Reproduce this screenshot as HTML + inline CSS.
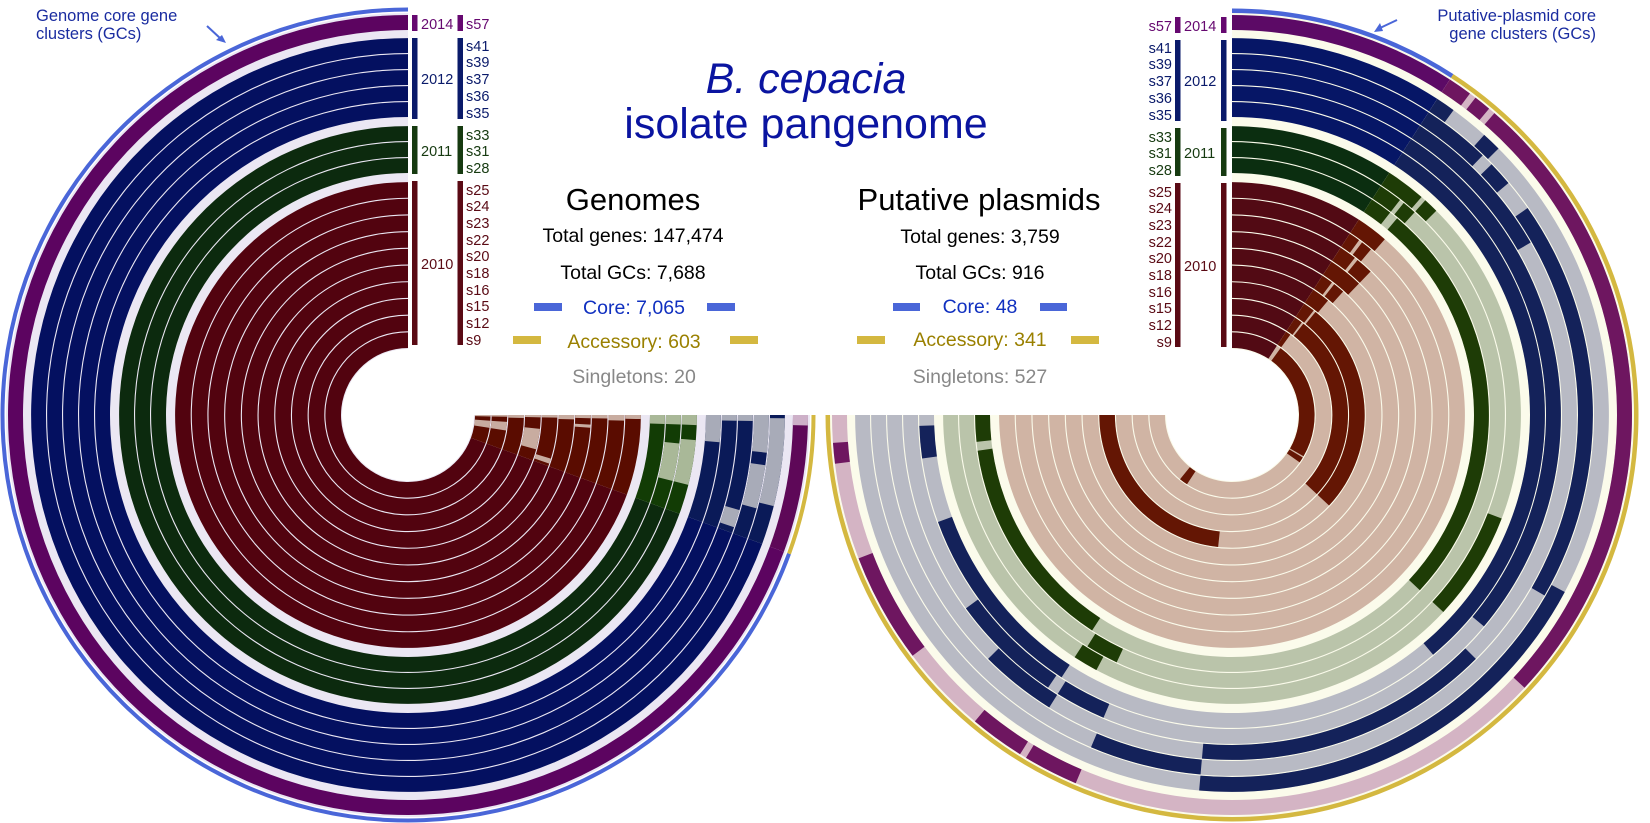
<!DOCTYPE html>
<html><head><meta charset="utf-8">
<style>
html,body{margin:0;padding:0;background:#fff;}
svg{display:block;font-family:"Liberation Sans",Arial,sans-serif;}
</style></head>
<body>
<svg id="s" width="1650" height="823" viewBox="0 0 1650 823" xmlns="http://www.w3.org/2000/svg">
<g id="rings"></g>
<!-- Title -->
<text x="806" y="93" font-size="43" fill="#0a14a0" text-anchor="middle" font-style="italic">B. cepacia</text>
<text x="806" y="138" font-size="43" fill="#0a14a0" text-anchor="middle">isolate pangenome</text>
<!-- Genomes block -->
<g text-anchor="middle">
<text x="633" y="210" font-size="31" fill="#000">Genomes</text>
<text x="633" y="242" font-size="19.5" fill="#000">Total genes: 147,474</text>
<text x="633" y="279" font-size="19.5" fill="#000">Total GCs: 7,688</text>
<text x="634" y="314" font-size="19.5" fill="#1030c0">Core: 7,065</text>
<text x="634" y="348" font-size="19.5" fill="#9a8000">Accessory: 603</text>
<text x="634" y="383" font-size="19.5" fill="#888">Singletons: 20</text>
<text x="979" y="210" font-size="31" fill="#000">Putative plasmids</text>
<text x="980" y="243" font-size="19.5" fill="#000">Total genes: 3,759</text>
<text x="980" y="279" font-size="19.5" fill="#000">Total GCs: 916</text>
<text x="980" y="313" font-size="19.5" fill="#1030c0">Core: 48</text>
<text x="980" y="346" font-size="19.5" fill="#9a8000">Accessory: 341</text>
<text x="980" y="383" font-size="19.5" fill="#888">Singletons: 527</text>
</g>
<rect x="534" y="303" width="28" height="8" fill="#4a66d8"/><rect x="707" y="303" width="28" height="8" fill="#4a66d8"/>
<rect x="513" y="336" width="28" height="8" fill="#d4b840"/><rect x="730" y="336" width="28" height="8" fill="#d4b840"/>
<rect x="893" y="303" width="27" height="8" fill="#4a66d8"/><rect x="1040" y="303" width="27" height="8" fill="#4a66d8"/>
<rect x="857" y="336" width="28" height="8" fill="#d4b840"/><rect x="1071" y="336" width="28" height="8" fill="#d4b840"/>
<!-- Annotations -->
<text x="36" y="21" font-size="16.5" fill="#1a2ca0">Genome core gene</text>
<text x="36" y="39" font-size="16.5" fill="#1a2ca0">clusters (GCs)</text>
<line x1="207" y1="26" x2="221" y2="39" stroke="#4a66d8" stroke-width="2"/>
<polygon points="226,43 216,40 222,35" fill="#4a66d8"/>
<text x="1596" y="21" font-size="16.5" fill="#1a2ca0" text-anchor="end">Putative-plasmid core</text>
<text x="1596" y="39" font-size="16.5" fill="#1a2ca0" text-anchor="end">gene clusters (GCs)</text>
<line x1="1397" y1="20" x2="1380" y2="28" stroke="#4a66d8" stroke-width="2"/>
<polygon points="1374,32 1380,23 1383,31" fill="#4a66d8"/>
<g id="labels" font-size="14.5"></g>
</svg>
<script>
(function(){
var NS="http://www.w3.org/2000/svg";
var G=document.getElementById("rings");
function sector(cx,cy,r1,r2,a1,a2,dir,fill){
  if(a2<=a1) return;
  function pt(r,a){var t=a*Math.PI/180;return [cx+dir*r*Math.sin(t),cy-r*Math.cos(t)];}
  var p1=pt(r2,a1),p2=pt(r2,a2),p3=pt(r1,a2),p4=pt(r1,a1);
  var lg=(a2-a1)>180?1:0; var sw1=dir>0?1:0, sw2=dir>0?0:1;
  var d="M"+p1[0].toFixed(2)+" "+p1[1].toFixed(2)+" A"+r2+" "+r2+" 0 "+lg+" "+sw1+" "+p2[0].toFixed(2)+" "+p2[1].toFixed(2)+
   " L"+p3[0].toFixed(2)+" "+p3[1].toFixed(2)+" A"+r1+" "+r1+" 0 "+lg+" "+sw2+" "+p4[0].toFixed(2)+" "+p4[1].toFixed(2)+" Z";
  var e=document.createElementNS(NS,"path");e.setAttribute("d",d);e.setAttribute("fill",fill);G.appendChild(e);
}
// ring radii
var rings={};
var red=["s9","s12","s15","s16","s18","s20","s22","s23","s24","s25"];
red.forEach(function(n,i){rings[n]=[67+16.7*i,67+16.7*(i+1)-1.1,"r"];});
["s28","s31","s33"].forEach(function(n,i){rings[n]=[242+16*i,242+16*(i+1)-1.1,"g"];});
["s35","s36","s37","s39","s41"].forEach(function(n,i){rings[n]=[298+16*i,298+16*(i+1)-1.1,"b"];});
rings["s57"]=[385,400,"p"];
var order=["s57","s41","s39","s37","s36","s35","s33","s31","s28"].concat(red.slice().reverse());

// LEFT
var L={cx:408,cy:415,dir:-1};
sector(L.cx,L.cy,66,402,0,270,-1,"#ebe7f3");
var Lcore={r:"#52030f",g:"#0c2a0e",b:"#041060",p:"#5c0460"};
var Lacc={r:"#5a0c00",g:"#123c05",b:"#0a1a58",p:"#5e0858"};
var Llight={r:"#c8aca0",g:"#a9b898",b:"#a8abb8",p:"#cdb0c8"};
var Lpatch={
 s9:[[261,266],[269,270]], s12:[[261,266],[269,270]], s15:[[268.5,270]], s16:[[255,264],[269,270]],
 s18:[[251,253],[269,270]], s20:[[268.5,270]], s22:[[266,267],[269,270]], s23:[[269,270]], s24:[[268.5,270]], s25:[[269,270]],
 s28:[[268,270]], s31:[[256,264],[268,270]], s33:[[256,265],[268,270]],
 s35:[[265,270]], s36:[[269,270]], s37:[[251,254],[269,270]], s39:[[255,262],[264,270]], s41:[[256,269.5]], s57:[[268.5,270]]
};
order.forEach(function(n){var R=rings[n],c=R[2];
 sector(L.cx,L.cy,R[0],R[1],0,250,-1,Lcore[c]);
 sector(L.cx,L.cy,R[0],R[1],250,270,-1,Lacc[c]);
 (Lpatch[n]||[]).forEach(function(s){sector(L.cx,L.cy,R[0],R[1],s[0],s[1],-1,Llight[c]);});
});
sector(L.cx,L.cy,403.5,407.5,0,250,-1,"#4a66d8");
sector(L.cx,L.cy,403.5,407.5,250,270,-1,"#d4b840");

// RIGHT
var Rc={cx:1232,cy:415};
sector(Rc.cx,Rc.cy,66,402,0,270,1,"#fbfbeb");
var Rcore={r:"#520a14",g:"#0b2e10",b:"#061666",p:"#5c0a66"};
var Racc={r:"#641604",g:"#1e3c06",b:"#14225a",p:"#6e1660"};
var Rlight={r:"#d0b4a4",g:"#bac4aa",b:"#b8bac4",p:"#d4b4c4"};
var Rdark={
 s57:[[33,36.5],[37.5,40],[41,133],[203,211],[212,220],[233,249],[263,266]],
 s41:[[33,36],[42,45],[118,185]],
 s39:[[33,44],[46,50],[55,120],[185,203]],
 s37:[[33,60],[135,185],[212,225]],
 s36:[[33,130],[203,212],[214,234]],
 s35:[[33,140],[213,250],[262,268]],
 s33:[[33,41],[42,45],[111,133],[208,213]],
 s31:[[33,38],[39,42],[205,212]],
 s28:[[33,38],[40,133],[213,262],[264,270]],
 s25:[[33,41]], s24:[[33,36],[37,40]], s23:[[33,38],[39,44]], s22:[[33,44]],
 s20:[[33,37],[38,42]], s18:[[33,40]], s16:[[33,38],[39,133],[186,270]],
 s15:[[33,37],[38,133]], s12:[[33,36]], s9:[[36,120],[121,125],[213,219]]
};
order.forEach(function(n){var R=rings[n],c=R[2];
 sector(Rc.cx,Rc.cy,R[0],R[1],0,33,1,Rcore[c]);
 sector(Rc.cx,Rc.cy,R[0],R[1],33,270,1,Rlight[c]);
 (Rdark[n]||[]).forEach(function(s){sector(Rc.cx,Rc.cy,R[0],R[1],s[0],s[1],1,Racc[c]);});
});
sector(Rc.cx,Rc.cy,402,406.5,0,33,1,"#4a66d8");
sector(Rc.cx,Rc.cy,402,406.5,33,270,1,"#d4b840");

// LABELS
var LG=document.getElementById("labels");
function rect(x,y,w,h,f){var e=document.createElementNS(NS,"rect");e.setAttribute("x",x);e.setAttribute("y",y);e.setAttribute("width",w);e.setAttribute("height",h);e.setAttribute("fill",f);LG.appendChild(e);}
function txt(x,y,s,f,anc){var e=document.createElementNS(NS,"text");e.setAttribute("x",x);e.setAttribute("y",y);e.setAttribute("fill",f);if(anc)e.setAttribute("text-anchor",anc);e.textContent=s;LG.appendChild(e);}
var groups=[
 {year:"2014",col:"#660870",top:15,bot:31,yy:29,names:[["s57",29]]},
 {year:"2012",col:"#0a1a6a",top:38,bot:119,yy:84,names:[["s41",51],["s39",67],["s37",84],["s36",101],["s35",118]]},
 {year:"2011",col:"#163a10",top:126,bot:174,yy:156,names:[["s33",140],["s31",156],["s28",173]]},
 {year:"2010",col:"#5a0a14",top:181,bot:345,yy:269,names:[["s25",195],["s24",211],["s23",228],["s22",245],["s20",261],["s18",278],["s16",295],["s15",311],["s12",328],["s9",345]]}
];
groups.forEach(function(g){
 rect(412,g.top,5.5,g.bot-g.top,g.col); rect(457.5,g.top,5.5,g.bot-g.top,g.col);
 txt(421,g.yy,g.year,g.col); g.names.forEach(function(n){txt(466,n[1],n[0],g.col);});
 var o=2;
 rect(1175,g.top+o,5.5,g.bot-g.top,g.col); rect(1221,g.top+o,5.5,g.bot-g.top,g.col);
 txt(1184,g.yy+o,g.year,g.col); g.names.forEach(function(n){txt(1172,n[1]+o,n[0],g.col,"end");});
});
})();
</script>
</body></html>
